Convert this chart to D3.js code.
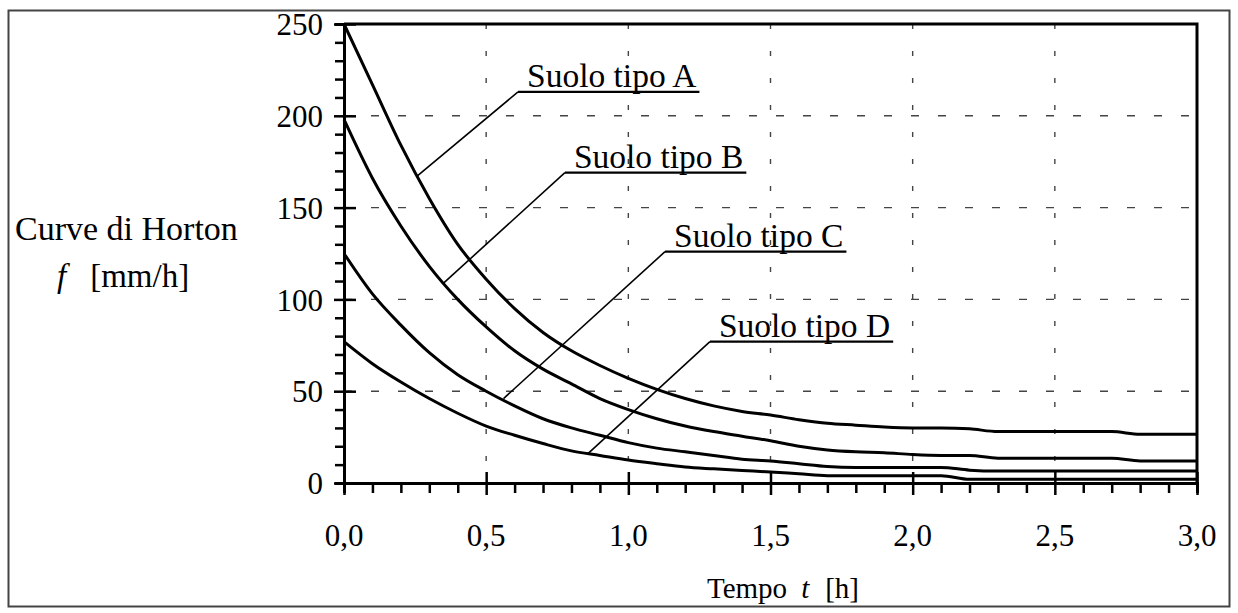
<!DOCTYPE html>
<html>
<head>
<meta charset="utf-8">
<script src="https://cdn.jsdelivr.net/npm/d3@7"></script>
<style>
  body { margin: 0; background: #fff; }
  text { font-family: "Liberation Serif", "Times New Roman", serif; fill: #000; }
</style>
</head>
<body>
<script>
// time axis (h), one reading every 0.1 h
const tempo = d3.range(0, 31).map(i => i / 10);

// infiltration f [mm/h]
const suoloA = [250, 217, 184, 155, 130, 111, 95, 82, 72, 64, 57, 51, 46, 42, 39, 37, 34.5, 32.5, 31.5, 30.5, 30, 30, 29.5, 28, 28, 28, 28, 28, 26.5, 26.5, 26.5];
const suoloB = [198, 166, 140, 118, 100, 85, 72, 62, 54, 46, 40, 35, 31, 28, 25.5, 23, 20, 18, 17, 16.5, 15.5, 15, 15, 13.5, 13.5, 13.5, 13.5, 13.5, 12, 12, 12];
const suoloC = [125, 103, 86, 71, 59, 50, 42, 35, 30, 26, 22, 19, 17, 15, 13, 12, 10.5, 9, 8.5, 8.5, 8.5, 8.5, 7, 6.5, 6.5, 6.5, 6.5, 6.5, 6.5, 6.5, 6.5];
const suoloD = [77, 65, 55, 46, 38, 31, 26, 21.5, 17.5, 15, 12.5, 10.5, 8.7, 7.7, 6.8, 6, 5, 4, 4, 4, 4, 4, 2, 2, 2, 2, 2, 2, 2, 2, 2];

const seriesNames = ["Suolo tipo A", "Suolo tipo B", "Suolo tipo C", "Suolo tipo D"];
// where each leader line touches its curve, and where it bends (t, f)
const leaderTouch = [[0.256, 167], [0.351, 109], [0.561, 46], [0.858, 16]];
const leaderBend = [[0.612, 213], [0.777, 169], [1.129, 126], [1.287, 77]];

const xTicks = [0, 0.5, 1, 1.5, 2, 2.5, 3];
const yTicks = [0, 50, 100, 150, 200, 250];

const width = 1238, height = 613;

const svg = d3.select("body").append("svg")
    .attr("width", width)
    .attr("height", height);

// outer frame
svg.append("rect")
    .attr("x", 8.5).attr("y", 10.5)
    .attr("width", 1221).attr("height", 596)
    .attr("fill", "none")
    .attr("stroke", "#444")
    .attr("stroke-width", 2);

const x = d3.scaleLinear().domain([0, 3]).range([344, 1197]);
const y = d3.scaleLinear().domain([0, 250]).range([483, 24]);

const commaFmt = d3.formatLocale({decimal: ",", thousands: ".", grouping: [3], currency: ["", ""]}).format(".1f");

// dashed grid
const grid = svg.append("g").attr("stroke", "#444").attr("stroke-width", 1.4);
grid.selectAll(".gy")
    .data(yTicks.filter(d => d > 0 && d < 250))
    .enter().append("line")
    .attr("x1", x(0)).attr("x2", x(3))
    .attr("y1", d => y(d)).attr("y2", d => y(d))
    .attr("stroke-dasharray", "8,19");
grid.selectAll(".gx")
    .data(xTicks.filter(d => d > 0 && d < 3))
    .enter().append("line")
    .attr("y1", y(250)).attr("y2", y(0))
    .attr("x1", d => x(d)).attr("x2", d => x(d))
    .attr("stroke-dasharray", "5,22");

// top and right border of plot
svg.append("path")
    .attr("d", `M${x(0)},${y(250)}H${x(3)}V${y(0)}`)
    .attr("fill", "none")
    .attr("stroke", "#000")
    .attr("stroke-width", 3);

// y axis
const yAxis = svg.append("g").attr("transform", `translate(${x(0)},0)`);
yAxis.call(d3.axisLeft(y).tickValues(d3.range(0, 251, 10)).tickSize(9).tickFormat(""));
yAxis.selectAll(".tick")
    .filter(d => d % 50 === 0)
    .select("line").attr("x1", 12).attr("x2", -10);
yAxis.selectAll("line").attr("stroke", "#000").attr("stroke-width", 2.5);
yAxis.select(".domain").attr("stroke", "#000").attr("stroke-width", 3);

svg.append("g").selectAll("text")
    .data(yTicks)
    .enter().append("text")
    .attr("x", 323)
    .attr("y", d => y(d))
    .attr("dy", "0.36em")
    .attr("text-anchor", "end")
    .style("font-size", "31px")
    .text(d => d);

// x axis
const xAxis = svg.append("g").attr("transform", `translate(0,${y(0)})`);
xAxis.call(d3.axisBottom(x).tickValues(d3.range(0, 31).map(i => i / 10)).tickSize(10).tickFormat(""));
xAxis.selectAll(".tick")
    .filter(d => Math.abs(d * 2 - Math.round(d * 2)) < 1e-6)
    .select("line").attr("y1", -11).attr("y2", 12);
xAxis.selectAll("line").attr("stroke", "#000").attr("stroke-width", 2.5);
xAxis.select(".domain").attr("stroke", "#000").attr("stroke-width", 3);

svg.append("g").selectAll("text")
    .data(xTicks)
    .enter().append("text")
    .attr("x", d => x(d))
    .attr("y", 546)
    .attr("text-anchor", "middle")
    .style("font-size", "31px")
    .text(d => commaFmt(d));

// curves
const line = d3.line()
    .x((d, i) => x(tempo[i]))
    .y(d => y(d))
    .curve(d3.curveMonotoneX);

svg.append("g").selectAll("path")
    .data([suoloA, suoloB, suoloC, suoloD])
    .enter().append("path")
    .attr("d", d => line(d))
    .attr("fill", "none")
    .attr("stroke", "#000")
    .attr("stroke-width", 3);

// curve labels with leader lines
seriesNames.forEach(function(name, i) {
    let bx = x(leaderBend[i][0]), by = y(leaderBend[i][1]);
    svg.append("line")
        .attr("x1", x(leaderTouch[i][0])).attr("y1", y(leaderTouch[i][1]))
        .attr("x2", bx).attr("y2", by)
        .attr("stroke", "#000").attr("stroke-width", 1.6);
    let t = svg.append("text")
        .attr("x", bx + 9)
        .attr("y", by - 5)
        .style("font-size", "33.5px")
        .text(name);
    let w = t.node().getComputedTextLength();
    svg.append("line")
        .attr("x1", bx).attr("x2", bx + 9 + w + 3)
        .attr("y1", by).attr("y2", by)
        .attr("stroke", "#000").attr("stroke-width", 2.2);
});

// axis titles
svg.append("text")
    .attr("x", 15).attr("y", 240)
    .style("font-size", "34px")
    .text("Curve di Horton");
const yUnit = svg.append("text")
    .attr("x", 57).attr("y", 287)
    .style("font-size", "33px");
yUnit.append("tspan").style("font-style", "italic").text("f");
yUnit.append("tspan").attr("dx", 24).text("[mm/h]");

const xTitle = svg.append("text")
    .attr("x", 707).attr("y", 598)
    .style("font-size", "29px");
xTitle.append("tspan").text("Tempo");
xTitle.append("tspan").attr("dx", 14).style("font-style", "italic").text("t");
xTitle.append("tspan").attr("dx", 16).text("[h]");
</script>
</body>
</html>
